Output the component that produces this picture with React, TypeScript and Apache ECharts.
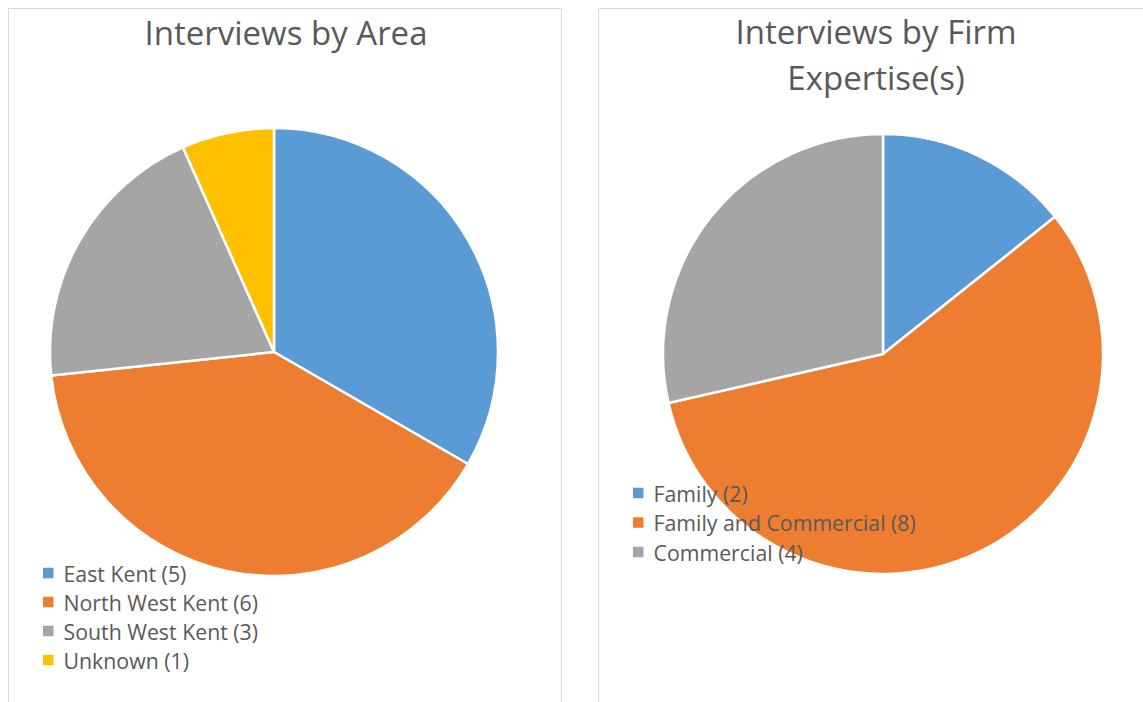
import React, { useEffect, useRef } from "react";
import * as echarts from "echarts";

const areaNames = ["East Kent", "North West Kent", "South West Kent", "Unknown"];
const areaValues = [5, 6, 3, 1];
const areaColors = ["#5B9BD5", "#ED7D31", "#A5A5A5", "#FFC000"];

const firmNames = ["Family", "Family and Commercial", "Commercial"];
const firmValues = [2, 8, 4];
const firmColors = ["#5B9BD5", "#ED7D31", "#A5A5A5"];

const FONT = "Open Sans";
const TEXT = "#595959";

export default function App() {
  const ref = useRef<HTMLDivElement>(null);
  useEffect(() => {
    if (!ref.current) return;
    const chart = echarts.init(ref.current, undefined, { renderer: "svg" });
    const areaData = areaNames.map((n, i) => ({ name: n, value: areaValues[i], itemStyle: { color: areaColors[i] } }));
    const firmData = firmNames.map((n, i) => ({ name: n, value: firmValues[i], itemStyle: { color: firmColors[i] } }));
    const lookup: Record<string, number> = {};
    areaNames.forEach((n, i) => (lookup[n] = areaValues[i]));
    firmNames.forEach((n, i) => (lookup[n] = firmValues[i]));
    const legendText = { fontFamily: FONT, fontSize: 21.3, lineHeight: 21, color: TEXT, padding: [0, 0, 0, 4] };
    chart.setOption({
      animation: false,
      backgroundColor: "#ffffff",
      graphic: [
        { type: "rect", shape: { x: 8.5, y: 8.5, width: 553, height: 720 }, style: { fill: "none", stroke: "#d9d9d9", lineWidth: 1 }, z: -1 },
        { type: "rect", shape: { x: 598.5, y: 8.5, width: 620, height: 720 }, style: { fill: "none", stroke: "#d9d9d9", lineWidth: 1 }, z: -1 },
      ],
      title: [
        { text: "Interviews by Area", left: 281, top: 4, textAlign: "center", textStyle: { fontFamily: FONT, fontSize: 33, lineHeight: 46, fontWeight: "normal", color: TEXT } },
        { text: "Interviews by Firm\nExpertise(s)", left: 871, top: 3, textAlign: "center", textStyle: { fontFamily: FONT, fontSize: 33, fontWeight: "normal", color: TEXT, lineHeight: 46, align: "center" } },
      ],
      legend: [
        {
          data: areaNames, orient: "vertical", left: 36, top: 557.5, itemGap: 8, itemWidth: 12.5, itemHeight: 12.5, icon: "rect",
          formatter: (n: string) => `${n} (${lookup[n]})`,
          textStyle: legendText,
        },
        {
          data: firmNames, orient: "vertical", left: 626, top: 477.5, itemGap: 8.5, itemWidth: 12.5, itemHeight: 12.5, icon: "rect",
          formatter: (n: string) => `${n} (${lookup[n]})`,
          textStyle: legendText,
        },
      ],
      series: [
        {
          type: "pie", center: [274, 352], radius: 224, startAngle: 90, clockwise: true,
          label: { show: false }, labelLine: { show: false }, emphasis: { disabled: true },
          itemStyle: { borderColor: "#ffffff", borderWidth: 2.5 },
          data: areaData, z: 1,
        },
        {
          type: "pie", center: [883, 354], radius: 220, startAngle: 90, clockwise: true,
          label: { show: false }, labelLine: { show: false }, emphasis: { disabled: true },
          itemStyle: { borderColor: "#ffffff", borderWidth: 2.5 },
          data: firmData, z: 1,
        },
      ],
    });
    return () => chart.dispose();
  }, []);
  return <div ref={ref} style={{ position: "fixed", left: 0, top: 0, width: 1143, height: 702 }} />;
}
